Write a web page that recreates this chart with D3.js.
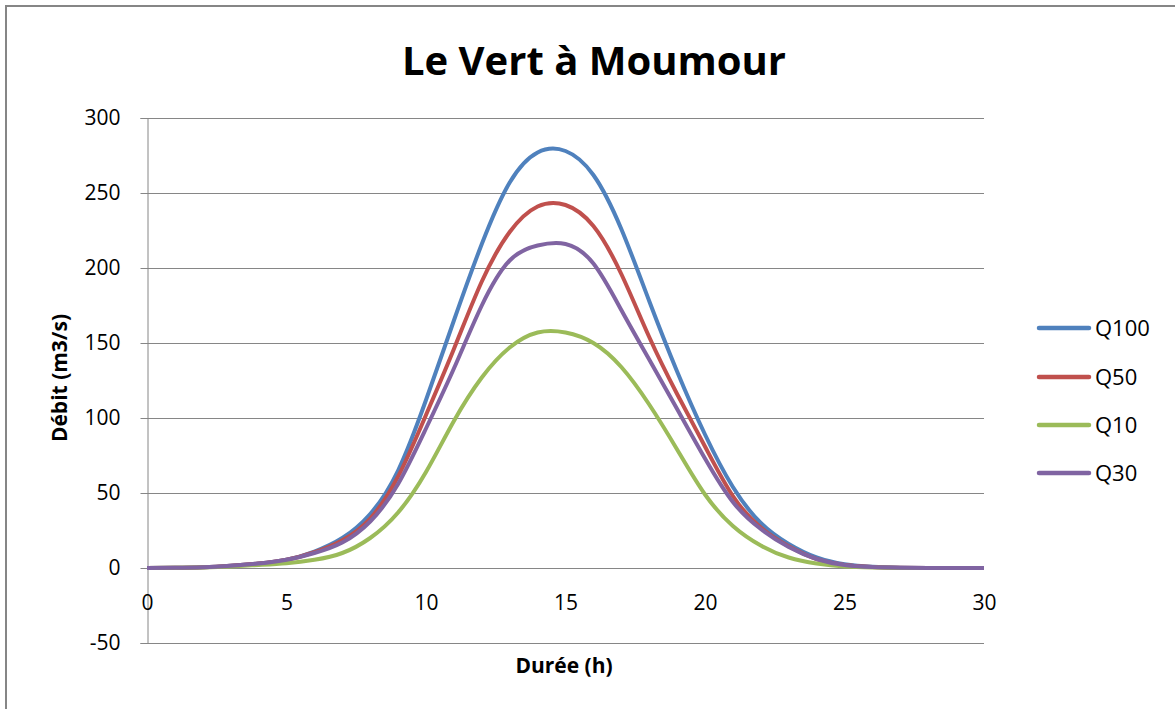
<!DOCTYPE html>
<html>
<head>
<meta charset="utf-8">
<script src="https://cdn.jsdelivr.net/npm/d3@7"></script>
<style>
  body { margin: 0; background: #fff; }
  text { font-family: "Open Sans", "Noto Sans", sans-serif; fill: #000; }
</style>
</head>
<body>
<script>
// hourly hydrographs
var hours = d3.range(0, 31);
var q100 = [0, 0.1, 0.5, 1.5, 3, 5.5, 11, 20, 36, 65, 112, 165, 216, 257, 277, 278, 262, 226, 178, 131, 89, 54, 30, 16, 7, 2.5, 0.8, 0.2, 0, 0, 0];
var q50  = [0, 0.1, 0.5, 1.5, 3, 5.5, 10.5, 18.5, 33, 61, 102, 146, 191, 224, 241, 242, 228, 196, 154, 116, 81, 48, 27, 14.5, 6, 2, 0.7, 0.2, 0, 0, 0];
var q10  = [0, 0.1, 0.4, 1, 2, 3.2, 5.5, 10, 20, 37, 64, 98, 127, 147, 157, 157, 150, 134, 109, 79, 49, 28, 15, 7, 3, 1, 0.3, 0, 0, 0, 0];
var q30  = [0, 0.1, 0.5, 1.5, 3, 5.5, 10, 17, 31, 56, 93, 133, 175, 205, 215, 216, 203, 172, 139, 106, 73, 44, 26, 14, 6, 2, 0.6, 0.2, 0, 0, 0];

var seriesNames = ["Q100", "Q50", "Q10", "Q30"];
var seriesValues = [q100, q50, q10, q30];
var colors = ["#4F81BD", "#C0504D", "#9BBB59", "#8064A2"];

var xTicks = [0, 5, 10, 15, 20, 25, 30];
var yTicks = [-50, 0, 50, 100, 150, 200, 250, 300];

var width = 1175,
    height = 709;

var margin = {left: 147, right: 984, top: 118, bottom: 643};

var x = d3.scaleLinear().domain([0, 30]).range([margin.left, margin.right]);
var y = d3.scaleLinear().domain([-50, 300]).range([margin.bottom, margin.top]);

var svg = d3.select("body")
            .append("svg")
            .attr("width", width)
            .attr("height", height);

// outer chart frame
svg.append("rect")
   .attr("x", 6)
   .attr("y", 6)
   .attr("width", 1200)
   .attr("height", 720)
   .attr("fill", "#fff")
   .attr("stroke", "#868686")
   .attr("stroke-width", 2);

svg.append("text")
   .attr("x", 594)
   .attr("y", 75)
   .attr("text-anchor", "middle")
   .style("font-size", "40px")
   .style("font-weight", "bold")
   .text("Le Vert à Moumour");

// horizontal gridlines
svg.append("g")
   .selectAll("line")
   .data(yTicks)
   .enter()
   .append("line")
   .attr("x1", margin.left)
   .attr("x2", margin.right)
   .attr("y1", function(d){ return Math.round(y(d)) + 0.5; })
   .attr("y2", function(d){ return Math.round(y(d)) + 0.5; })
   .attr("stroke", "#868686")
   .attr("stroke-width", 1.2);

var plain = function(d){ return String(d); };

// y axis
var yAxis = d3.axisLeft(y)
              .tickValues(yTicks)
              .tickFormat(plain)
              .tickSize(7)
              .tickPadding(20);

var gy = svg.append("g")
            .attr("transform", "translate(" + (margin.left + 0.5) + ",0)")
            .call(yAxis);
gy.select(".domain").attr("stroke", "#868686");
gy.selectAll(".tick line").attr("stroke", "#868686");
gy.selectAll(".tick text")
  .style("font-size", "21px")
  .attr("fill", "#000")
  .attr("font-family", null);

// x axis sits on the zero line
var xAxis = d3.axisBottom(x)
              .tickValues(xTicks)
              .tickFormat(plain)
              .tickSize(0)
              .tickPadding(27);

var gx = svg.append("g")
            .attr("transform", "translate(0," + (Math.round(y(0)) + 0.5) + ")")
            .call(xAxis);
gx.select(".domain").remove();
gx.selectAll(".tick text")
  .style("font-size", "21px")
  .attr("fill", "#000")
  .attr("font-family", null);

svg.append("text")
   .attr("x", 564)
   .attr("y", 673)
   .attr("text-anchor", "middle")
   .style("font-size", "21px")
   .style("font-weight", "bold")
   .text("Durée (h)");

svg.append("text")
   .attr("transform", "translate(67,378) rotate(-90)")
   .attr("text-anchor", "middle")
   .style("font-size", "21px")
   .style("font-weight", "bold")
   .text("Débit (m3/s)");

var line = d3.line()
             .x(function(d, i){ return x(hours[i]); })
             .y(function(d){ return y(d); })
             .curve(d3.curveNatural);

svg.append("g")
   .selectAll("path")
   .data(seriesValues)
   .enter()
   .append("path")
   .attr("d", line)
   .attr("fill", "none")
   .attr("stroke", function(d, i){ return colors[i]; })
   .attr("stroke-width", 4)
   .attr("stroke-linejoin", "round");

// legend
var legendY = [328, 377, 425, 473];
var legend = svg.append("g")
                .selectAll("g")
                .data(seriesNames)
                .enter()
                .append("g")
                .attr("transform", function(d, i){ return "translate(0," + legendY[i] + ")"; });

legend.append("line")
      .attr("x1", 1039)
      .attr("x2", 1089)
      .attr("stroke", function(d, i){ return colors[i]; })
      .attr("stroke-width", 4.5)
      .attr("stroke-linecap", "round");

legend.append("text")
      .attr("x", 1095)
      .attr("dy", "0.36em")
      .style("font-size", "22px")
      .text(function(d){ return d; });
</script>
</body>
</html>
